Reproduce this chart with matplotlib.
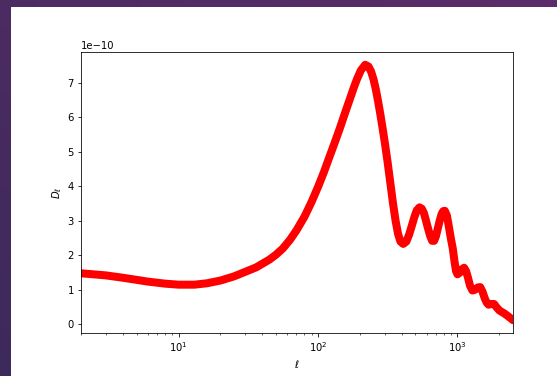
import numpy as np
import matplotlib.pyplot as plt
from matplotlib.colors import LinearSegmentedColormap
from matplotlib.patches import Rectangle

# Угловая шкала ell и спектр D_ell (в единицах 1e-10)
ell = [2, 3, 4, 5, 6, 8, 10, 13, 16, 20, 25, 30, 36, 45, 50, 56, 63, 70,
       80, 90, 100, 110, 120, 130, 144, 157, 170, 181, 191, 203,
       218, 230, 240, 250, 260, 270, 280, 290, 303, 315, 330, 345, 360,
       375, 390, 408, 430, 450, 470, 490, 510, 534, 555, 575, 595, 615,
       635, 658, 680, 700, 720, 745, 770, 790, 811, 840, 870, 900, 925,
       950, 975, 1000, 1040, 1080, 1115, 1150, 1190, 1230, 1280, 1330,
       1400, 1455, 1510, 1570, 1620, 1670, 1750, 1830, 1900, 2000, 2160,
       2300, 2400, 2500]
dl = [1.48, 1.42, 1.35, 1.29, 1.24, 1.18, 1.15, 1.15, 1.19, 1.27, 1.39,
      1.52, 1.65, 1.88, 2.02, 2.2, 2.45, 2.72, 3.12, 3.55, 3.98, 4.4,
      4.82, 5.2, 5.7, 6.15, 6.55, 6.87, 7.12, 7.36, 7.52,
      7.47, 7.33, 7.1, 6.8, 6.45, 6.08, 5.7, 5.2, 4.72, 4.1, 3.5, 3.0,
      2.62, 2.4, 2.33, 2.4, 2.6, 2.85, 3.1, 3.3, 3.39, 3.35, 3.22, 3.0,
      2.78, 2.58, 2.42, 2.42, 2.55, 2.75, 3.0, 3.2, 3.28, 3.29, 3.15,
      2.8, 2.45, 2.2, 1.85, 1.55, 1.45, 1.5, 1.6, 1.64, 1.55, 1.35, 1.12,
      0.98, 1.0, 1.07, 1.08, 0.95, 0.75, 0.63, 0.57, 0.59, 0.59, 0.5,
      0.4, 0.32, 0.24, 0.18, 0.12]

ell = np.array(ell)
dl = np.array(dl) * 1e-10

fig = plt.figure(figsize=(557 / 72, 376 / 72), dpi=72)
fig.patch.set_facecolor("#4a2b62")

# фон: фиолетовый градиент как в скриншоте
bg = fig.add_axes([0, 0, 1, 1], zorder=-10)
grad = np.linspace(0, 1, 64)
img = grad[None, :] * 0.5 + grad[::-1][:, None] * 0.5
cmap = LinearSegmentedColormap.from_list("bg", ["#3c2a5b", "#5c2d6a"])
bg.imshow(img, cmap=cmap, aspect="auto", extent=[0, 1, 0, 1])
bg.add_patch(Rectangle((11 / 557, 0), 1, 369 / 376, color="white",
                       transform=bg.transAxes))
bg.set_xlim(0, 1)
bg.set_ylim(0, 1)
bg.axis("off")

ax = fig.add_axes([81 / 557, 43 / 376, 432 / 557, 281 / 376])
ax.plot(ell, dl, color="r", lw=8, solid_joinstyle="round",
        solid_capstyle="round")
ax.set_xscale("log")
ax.set_xlim(2, 2500)
ax.set_xlabel(r"$\ell$")
ax.set_ylabel(r"$D_\ell$")

fig.savefig("out.png", dpi=72, facecolor=fig.get_facecolor())
